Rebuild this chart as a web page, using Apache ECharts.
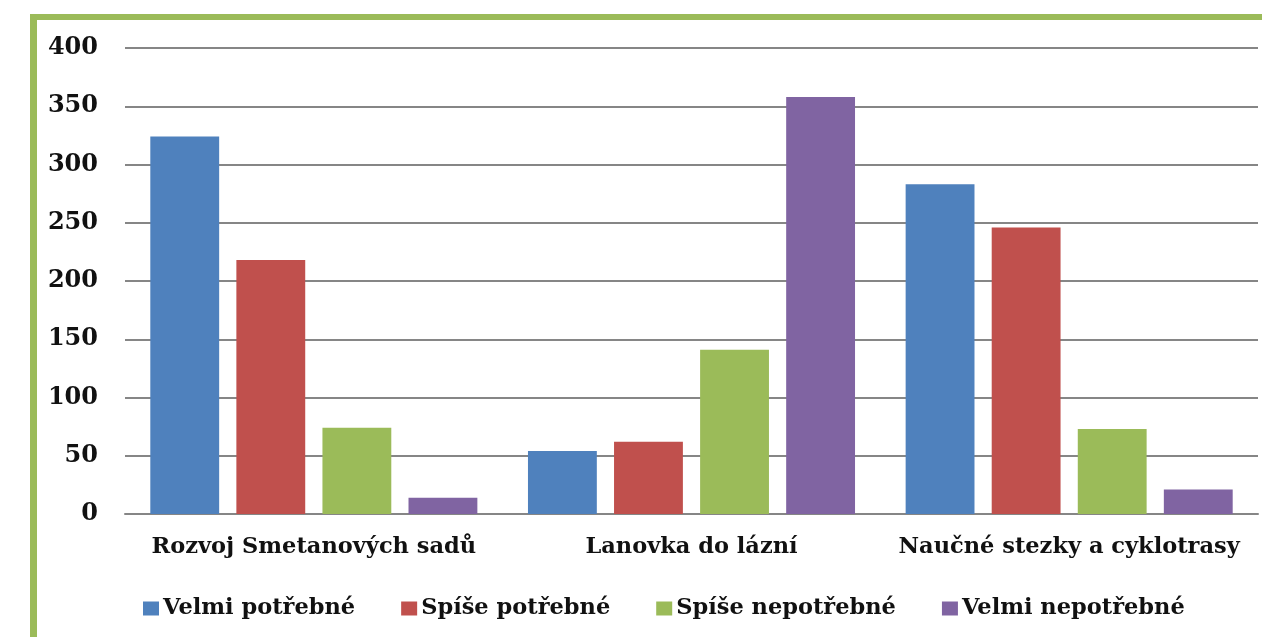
<!DOCTYPE html>
<html>
<head>
<meta charset="utf-8">
<script src="https://cdn.jsdelivr.net/npm/echarts@6/dist/echarts.min.js"></script>
<style>
  html, body { margin: 0; padding: 0; background: #ffffff; }
  #chart { width: 1262px; height: 637px; }
</style>
</head>
<body>
<div id="chart"></div>
<script>
// Survey answers per proposed project
const categories = ['Rozvoj Smetanových sadů', 'Lanovka do lázní', 'Naučné stezky a cyklotrasy'];
const seriesNames = ['Velmi potřebné', 'Spíše potřebné', 'Spíše nepotřebné', 'Velmi nepotřebné'];
const velmiPotrebne = [324, 54, 283];
const spisePotrebne = [218, 62, 246];
const spiseNepotrebne = [74, 141, 73];
const velmiNepotrebne = [14, 358, 21];
const yTicks = [0, 50, 100, 150, 200, 250, 300, 350, 400];

const colors = ['#4F81BD', '#C0504D', '#9BBB59', '#8064A2'];
const values = [velmiPotrebne, spisePotrebne, spiseNepotrebne, velmiNepotrebne];
const serif = '"DejaVu Serif", "Liberation Serif", serif';

const chart = echarts.init(document.getElementById('chart'), null, { renderer: 'canvas' });

chart.setOption({
  animation: false,
  backgroundColor: '#ffffff',
  color: colors,
  grid: { left: 125, right: 4, top: 48, bottom: 123, containLabel: false },
  xAxis: {
    type: 'category',
    data: categories,
    axisTick: { show: false },
    axisLine: { show: true, lineStyle: { color: '#868686', width: 2 } },
    axisLabel: {
      interval: 0,
      color: '#111111', fontFamily: serif, fontWeight: 'bold', fontSize: 22.5, margin: 22
    }
  },
  yAxis: {
    type: 'value',
    min: yTicks[0],
    max: yTicks[yTicks.length - 1],
    interval: 50,
    axisLine: { show: false },
    axisTick: { show: false },
    splitLine: { lineStyle: { color: '#868686', width: 2 } },
    axisLabel: {
      color: '#111111', fontFamily: serif, fontWeight: 'bold', fontSize: 24, margin: 27
    }
  },
  legend: {
    left: 138,
    top: 592,
    itemWidth: 16,
    itemHeight: 14,
    itemGap: 46,
    icon: 'rect',
    textStyle: { color: '#111111', fontFamily: serif, fontWeight: 'bold', fontSize: 22.5, padding: [0, 0, 0, -1] },
    data: seriesNames
  },
  graphic: [
    { type: 'rect', shape: { x: 30, y: 14, width: 7, height: 623 }, style: { fill: '#9BBB59' }, silent: true },
    { type: 'rect', shape: { x: 30, y: 14, width: 1232, height: 6 }, style: { fill: '#9BBB59' }, silent: true }
  ],
  series: seriesNames.map((name, i) => ({
    name: name,
    type: 'bar',
    data: values[i],
    barGap: '25%',
    barCategoryGap: '13.4%',
    itemStyle: { color: colors[i] }
  }))
});
</script>
</body>
</html>
